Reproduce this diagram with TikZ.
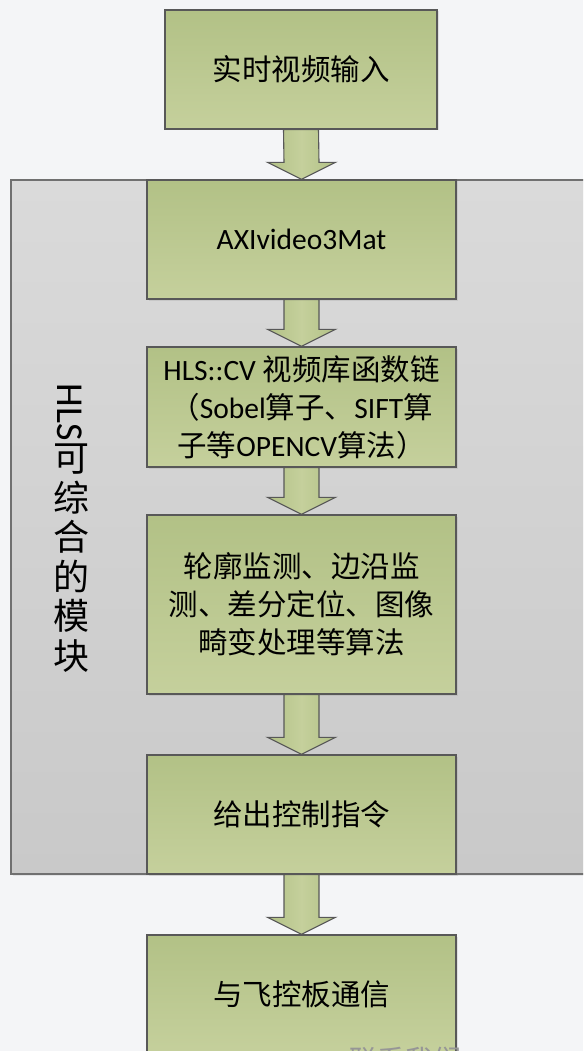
\documentclass[tikz,border=0pt]{standalone}
\usepackage{fontspec}
\setmainfont{Noto Sans CJK SC}
\newfontfamily\lat{Carlito}
\usetikzlibrary{calc,shadows}
\definecolor{bgc}{RGB}{244,245,247}
\definecolor{gtop}{RGB}{178,193,134}
\definecolor{gbot}{RGB}{197,208,156}
\definecolor{gmid}{RGB}{190,203,148}
\definecolor{edgec}{RGB}{88,88,88}
\definecolor{grptop}{RGB}{218,218,218}
\definecolor{grpbot}{RGB}{201,201,201}
\definecolor{grpedge}{RGB}{112,112,112}
\definecolor{wmark}{RGB}{150,150,150}
\tikzset{
  stepbox/.style={draw=edgec, line width=1.3pt, top color=gtop, bottom color=gbot,
    inner sep=0pt, minimum width=309pt, minimum height=119pt, align=center,
    text=black, font=\fontsize{29.5pt}{38pt}\selectfont,
    drop shadow={opacity=0.18, shadow xshift=1.5pt, shadow yshift=-1.5pt}},
  grpbox/.style={draw=grpedge, line width=1.3pt, top color=grptop, bottom color=grpbot,
    inner sep=0pt, minimum width=589pt, minimum height=694pt,
    drop shadow={opacity=0.15, shadow xshift=1.5pt, shadow yshift=-1.5pt}},
  arrowbody/.style={draw=edgec, line width=1.1pt, left color=gtop, right color=gtop, middle color=gbot, line join=miter},
  sidelabel/.style={inner sep=0pt, text=black},
  watermark/.style={inner sep=0pt, text=wmark, font=\fontsize{28pt}{28pt}\selectfont}
}
\newcommand\blockarrow[2]{%
  \path[arrowbody] ($(#1.south)+(-17.5,0)$) -- ($(#2.north)+(-17.5,-17)$)
    -- ($(#2.north)+(-34,-17)$) -- (#2.north) -- ($(#2.north)+(34,-17)$)
    -- ($(#2.north)+(17.5,-17)$) -- ($(#1.south)+(17.5,0)$) -- cycle;}
\begin{document}
\begin{tikzpicture}[x=1pt,y=-1pt]
  \useasboundingbox (0,0) rectangle (583,1051);
  \clip (0,0) rectangle (583,1051);
  \fill[bgc] (0,0) rectangle (583,1051);

  \node[grpbox] (grp) at (305.5,527) {};

  \node[stepbox, minimum width=272pt] (b1) at (301,69.5) {实时视频输入};
  \node[stepbox] (b2) at (301.5,239.5) {\lat AXIvideo3Mat};
  \node[stepbox, minimum height=120pt] (b3) at (301.5,407)
    {{\lat HLS::CV} 视频库函数链\\（{\lat Sobel}算子、{\lat SIFT}算\\子等{\lat OPENCV}算法）};
  \node[stepbox, minimum height=179pt] (b4) at (301.5,604.5)
    {轮廓监测、边沿监\\测、差分定位、图像\\畸变处理等算法};
  \node[stepbox] (b5) at (301.5,814.5) {给出控制指令};
  \node[stepbox] (b6) at (301.5,994.5) {与飞控板通信};

  \blockarrow{b1}{b2}
  \blockarrow{b2}{b3}
  \blockarrow{b3}{b4}
  \blockarrow{b4}{b5}
  \blockarrow{b5}{b6}

  \node[sidelabel, rotate=-90, font=\lat\fontsize{38pt}{38pt}\selectfont] (lblA) at (70,412.5) {HLS};
  \node[sidelabel, align=center, font=\fontsize{36pt}{39.5pt}\selectfont] (lblB) at (71.5,558)
    {可\\综\\合\\的\\模\\块};

  \node[watermark] (wm) at (405,1060) {联系我们};
\end{tikzpicture}
\end{document}
